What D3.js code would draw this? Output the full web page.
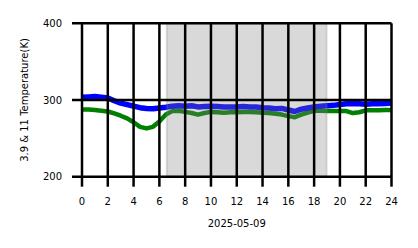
<!DOCTYPE html>
<html>
<head>
<meta charset="utf-8">
<script src="https://cdn.jsdelivr.net/npm/d3@7"></script>
<style>
  html, body { margin: 0; padding: 0; background: #fff; }
  svg { display: block; }
  text { font-family: "DejaVu Sans", sans-serif; fill: #000; }
</style>
</head>
<body>
<svg id="chart" width="418" height="248"></svg>
<script>
// ---- data ----
const hours = [0,0.5,1,1.5,2,2.5,3,3.5,4,4.5,5,5.5,6,6.5,7,7.5,8,8.5,9,9.5,10,10.5,11,11.5,12,12.5,13,13.5,14,14.5,15,15.5,16,16.5,17,17.5,18,18.5,19,19.5,20,20.5,21,21.5,22,22.5,23,23.5,24];
const temp39 = [303.5,304,304.5,303.5,302.5,299,296,294,292,290,289,288.5,289.5,290.5,292,292.5,292,292.5,291,291.5,292,291.5,291,291,291,291.5,291,291,290,289.5,288.5,289,287,285,288,289.5,291,292,292.5,293,294,295,295.5,295,294.5,295,295,295.5,296];
const temp11 = [287.5,287.5,287,286,285,282.5,279.5,276,271,265,263,265,272,281,285.5,286,284.5,283,281,283,284.5,284,283.5,284,284,284.5,284.5,284,283.5,283,282,281,279,277.5,281,283.5,286,286,285.5,285.5,285.5,285.5,283,284,286.5,286.5,286.5,287,287];
const xTicks = [0,2,4,6,8,10,12,14,16,18,20,22,24];
const yTicks = [200,300,400];
const shadeSpan = [6.57, 18.97];
const xLabel = "2025-05-09";
const yLabel = "3.9 & 11 Temperature(K)";

// ---- layout ----
const svg = d3.select("#chart");
const x = d3.scaleLinear().domain([0,24]).range([82,391.5]);
const y = d3.scaleLinear().domain([200,400]).range([176.7,23.3]);

const line = (vals) => d3.line().x((d,i)=>x(hours[i])).y(d=>y(d))(vals);

svg.append("path").attr("d", line(temp11)).attr("fill","none")
  .attr("stroke","#008000").attr("stroke-width",4.5).attr("stroke-linejoin","round");
svg.append("path").attr("d", line(temp39)).attr("fill","none")
  .attr("stroke","#0000ff").attr("stroke-width",5.5).attr("stroke-linejoin","round");

// shaded span
svg.append("rect")
  .attr("x", x(shadeSpan[0])).attr("y", y(400))
  .attr("width", x(shadeSpan[1]) - x(shadeSpan[0]))
  .attr("height", y(200) - y(400))
  .attr("fill", "rgba(128,128,128,0.3)")
  .attr("stroke", "rgba(128,128,128,0.25)").attr("stroke-width", 2);

// gridlines with ticks
const g = svg.append("g");
xTicks.forEach(t => {
  g.append("line").attr("x1", x(t)).attr("x2", x(t))
    .attr("y1", y(400)).attr("y2", y(200) + 10)
    .attr("stroke","#000").attr("stroke-width",2.5);
  g.append("text").attr("x", x(t)).attr("y", 205)
    .attr("text-anchor","middle").attr("font-size","10px").text(t);
});
yTicks.forEach(t => {
  g.append("line").attr("x1", x(0) - 10).attr("x2", x(24))
    .attr("y1", y(t)).attr("y2", y(t))
    .attr("stroke","#000").attr("stroke-width",2.5);
  g.append("text").attr("x", 62).attr("y", y(t)).attr("dy","0.36em")
    .attr("text-anchor","end").attr("font-size","10px").text(t);
});

svg.append("text").attr("x", (x(0)+x(24))/2).attr("y", 227)
  .attr("text-anchor","middle").attr("font-size","10px").text(xLabel);
svg.append("text").attr("transform", "translate(28," + ((y(200)+y(400))/2) + ") rotate(-90)")
  .attr("text-anchor","middle").attr("font-size","10px").text(yLabel);
</script>
</body>
</html>
